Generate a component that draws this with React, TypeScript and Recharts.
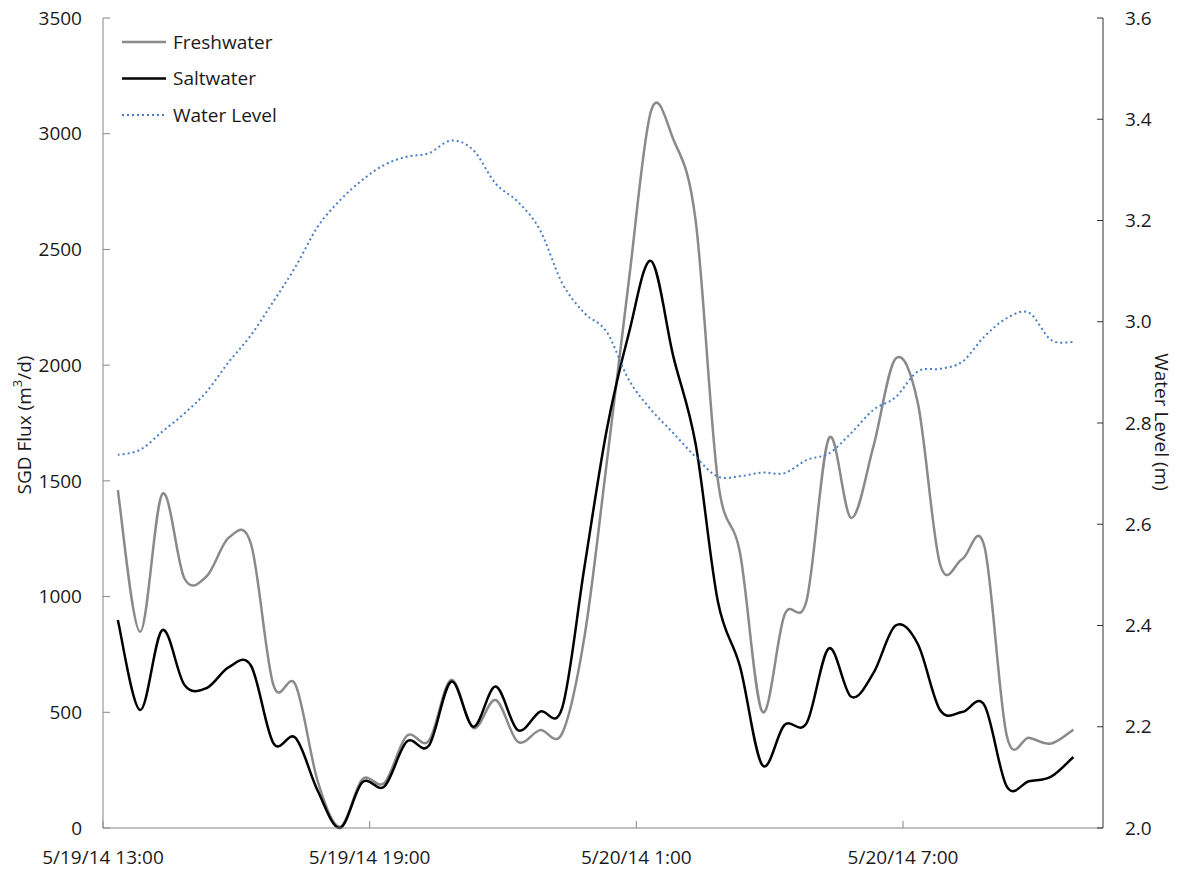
import React from "react";
import { LineChart, Line, XAxis, YAxis, Legend } from "recharts";

// sample times (30 min logger interval)
const times = [
  "5/19/14 13:20", "5/19/14 13:50", "5/19/14 14:20", "5/19/14 14:50",
  "5/19/14 15:20", "5/19/14 15:50", "5/19/14 16:20", "5/19/14 16:50",
  "5/19/14 17:20", "5/19/14 17:50", "5/19/14 18:20", "5/19/14 18:50",
  "5/19/14 19:20", "5/19/14 19:50", "5/19/14 20:20", "5/19/14 20:50",
  "5/19/14 21:20", "5/19/14 21:50", "5/19/14 22:20", "5/19/14 22:50",
  "5/19/14 23:20", "5/19/14 23:50", "5/20/14 0:20", "5/20/14 0:50",
  "5/20/14 1:20", "5/20/14 1:50", "5/20/14 2:20", "5/20/14 2:50",
  "5/20/14 3:20", "5/20/14 3:50", "5/20/14 4:20", "5/20/14 4:50",
  "5/20/14 5:20", "5/20/14 5:50", "5/20/14 6:20", "5/20/14 6:50",
  "5/20/14 7:20", "5/20/14 7:50", "5/20/14 8:20", "5/20/14 8:50",
  "5/20/14 9:20", "5/20/14 9:50", "5/20/14 10:20", "5/20/14 10:50",
];

const freshwater = [
  1460, 848, 1443, 1078, 1088, 1255, 1225, 618, 618, 200, 5, 210, 195, 398,
  377, 640, 432, 553, 373, 423, 410, 827, 1577, 2368, 3100, 2975, 2627, 1504,
  1188, 503, 920, 985, 1685, 1340, 1648, 2028, 1837, 1140, 1162, 1215, 400,
  390, 365, 425,
];

const saltwater = [
  899, 510, 855, 618, 605, 695, 700, 367, 389, 160, 0, 197, 180, 373, 356,
  632, 438, 611, 423, 503, 520, 1129, 1720, 2139, 2450, 2037, 1660, 980, 697,
  272, 445, 454, 776, 567, 669, 875, 795, 510, 501, 530, 180, 202, 222, 307,
];

const waterLevel = [
  2.737, 2.747, 2.783, 2.819, 2.862, 2.921, 2.974, 3.04, 3.109, 3.188, 3.24,
  3.28, 3.31, 3.326, 3.333, 3.358, 3.339, 3.273, 3.237, 3.181, 3.076, 3.017,
  2.98, 2.885, 2.826, 2.78, 2.733, 2.694, 2.695, 2.702, 2.701, 2.727, 2.74,
  2.78, 2.826, 2.851, 2.902, 2.907, 2.921, 2.971, 3.007, 3.018, 2.964, 2.96,
];

const xTicks = [0, 6, 12, 18];
const xTickLabels = ["5/19/14 13:00", "5/19/14 19:00", "5/20/14 1:00", "5/20/14 7:00"];
const fluxTicks = [0, 500, 1000, 1500, 2000, 2500, 3000, 3500];
const levelTicks = [2.0, 2.2, 2.4, 2.6, 2.8, 3.0, 3.2, 3.4, 3.6];

const FONT = "'Open Sans', sans-serif";
const TEXT = "#1a1a1a";

// hours since 5/19/14 13:00
function hoursFromStart(s: string) {
  const [d, t] = s.split(" ");
  const day = Number(d.split("/")[1]);
  const [h, m] = t.split(":").map(Number);
  return (day - 19) * 24 + h + m / 60 - 13;
}

const data = times.map((s, i) => ({
  t: hoursFromStart(s),
  fresh: freshwater[i],
  salt: saltwater[i],
  level: waterLevel[i],
}));

// Excel-like smoothed line (Catmull-Rom as cubic bezier)
function smoothCurve(context: any) {
  let pts: number[][] = [];
  return {
    areaStart() {},
    areaEnd() {},
    lineStart() {
      pts = [];
    },
    lineEnd() {
      const n = pts.length;
      if (!n) return;
      context.moveTo(pts[0][0], pts[0][1]);
      for (let i = 0; i < n - 1; i++) {
        const p0 = pts[i - 1] || pts[i];
        const p1 = pts[i];
        const p2 = pts[i + 1];
        const p3 = pts[i + 2] || p2;
        context.bezierCurveTo(
          p1[0] + (p2[0] - p0[0]) / 6,
          p1[1] + (p2[1] - p0[1]) / 6,
          p2[0] - (p3[0] - p1[0]) / 6,
          p2[1] - (p3[1] - p1[1]) / 6,
          p2[0],
          p2[1]
        );
      }
    },
    point(x: number, y: number) {
      pts.push([+x, +y]);
    },
  };
}

const XTick = (props: any) => {
  const { x, y, index } = props;
  return (
    <g>
      <line x1={x} x2={x} y1={y - 7} y2={y} stroke="#868686" strokeWidth={1} />
      <text x={x} y={y + 36} textAnchor="middle" fill={TEXT} fontSize={19} fontFamily={FONT}>
        {xTickLabels[index]}
      </text>
    </g>
  );
};

const LeftTick = (props: any) => {
  const { x, y, payload } = props;
  return (
    <g>
      <line x1={x} x2={x + 7} y1={y} y2={y} stroke="#868686" strokeWidth={1} />
      <text x={x - 21} y={y} dy="0.35em" textAnchor="end" fill={TEXT} fontSize={19} fontFamily={FONT}>
        {payload.value}
      </text>
    </g>
  );
};

const RightTick = (props: any) => {
  const { x, y, payload } = props;
  return (
    <g>
      <line x1={x - 6} x2={x} y1={y} y2={y} stroke="#333" strokeWidth={1} />
      <text x={x + 22} y={y} dy="0.35em" textAnchor="start" fill={TEXT} fontSize={19} fontFamily={FONT}>
        {Number(payload.value).toFixed(1)}
      </text>
    </g>
  );
};

const LeftTitle = () => (
  <text
    transform="translate(24, 425) rotate(-90)"
    textAnchor="middle"
    dy="0.35em"
    fill={TEXT}
    fontSize={19}
    fontFamily={FONT}
  >
    SGD Flux (m
    <tspan baselineShift="super" fontSize={13}>3</tspan>
    /d)
  </text>
);

const RightTitle = () => (
  <text
    transform="translate(1162, 422) rotate(90)"
    textAnchor="middle"
    dy="0.35em"
    fill={TEXT}
    fontSize={19}
    fontFamily={FONT}
  >
    Water Level (m)
  </text>
);

const legendItems = [
  { label: "Freshwater", color: "#8a8a8a", dash: undefined, width: 2.5 },
  { label: "Saltwater", color: "#000000", dash: undefined, width: 2.5 },
  { label: "Water Level", color: "#4a7ec4", dash: "2 3", width: 2 },
];

const LegendBox = () => (
  <svg width={240} height={120} style={{ overflow: "visible" }}>
    {legendItems.map((it, i) => (
      <g key={it.label} transform={`translate(0, ${12 + i * 36.5})`}>
        <line x1={0} x2={44} y1={0} y2={0} stroke={it.color} strokeWidth={it.width} strokeDasharray={it.dash} />
        <text x={51} y={0} dy="0.35em" fill={TEXT} fontSize={19} fontFamily={FONT}>
          {it.label}
        </text>
      </g>
    ))}
  </svg>
);

export default function App() {
  return (
    <div style={{ margin: -8 }}>
      <LineChart
        width={1177}
        height={873}
        data={data}
        margin={{ top: 18, right: 0, bottom: 0, left: 0 }}
        style={{ fontFamily: FONT }}
      >
        <XAxis
          dataKey="t"
          type="number"
          domain={[0, 22.5]}
          ticks={xTicks}
          allowDataOverflow
          height={45}
          axisLine={{ stroke: "#868686", strokeWidth: 1 }}
          tickLine={false}
          tickSize={0}
          tickMargin={0}
          interval={0}
          tick={<XTick />}
        />
        <YAxis
          yAxisId="flux"
          domain={[0, 3500]}
          ticks={fluxTicks}
          width={103}
          axisLine={{ stroke: "#868686", strokeWidth: 1 }}
          tickLine={false}
          tickSize={0}
          tickMargin={0}
          interval={0}
          tick={<LeftTick />}
          label={<LeftTitle />}
        />
        <YAxis
          yAxisId="level"
          orientation="right"
          domain={[2.0, 3.6]}
          ticks={levelTicks}
          width={74}
          axisLine={{ stroke: "#333", strokeWidth: 1 }}
          tickLine={false}
          tickSize={0}
          tickMargin={0}
          interval={0}
          tick={<RightTick />}
          label={<RightTitle />}
        />
        <Legend
          layout="vertical"
          align="center"
          verticalAlign="middle"
          wrapperStyle={{ left: 122, top: 30, width: 240 }}
          content={<LegendBox />}
        />
        <Line
          yAxisId="flux"
          dataKey="fresh"
          name="Freshwater"
          stroke="#8a8a8a"
          strokeWidth={2.5}
          type={smoothCurve as any}
          dot={false}
          activeDot={false}
          isAnimationActive={false}
        />
        <Line
          yAxisId="flux"
          dataKey="salt"
          name="Saltwater"
          stroke="#000000"
          strokeWidth={2.5}
          type={smoothCurve as any}
          dot={false}
          activeDot={false}
          isAnimationActive={false}
        />
        <Line
          yAxisId="level"
          dataKey="level"
          name="Water Level"
          stroke="#4a7ec4"
          strokeWidth={2}
          strokeDasharray="2 3"
          type={smoothCurve as any}
          dot={false}
          activeDot={false}
          isAnimationActive={false}
        />
      </LineChart>
    </div>
  );
}
